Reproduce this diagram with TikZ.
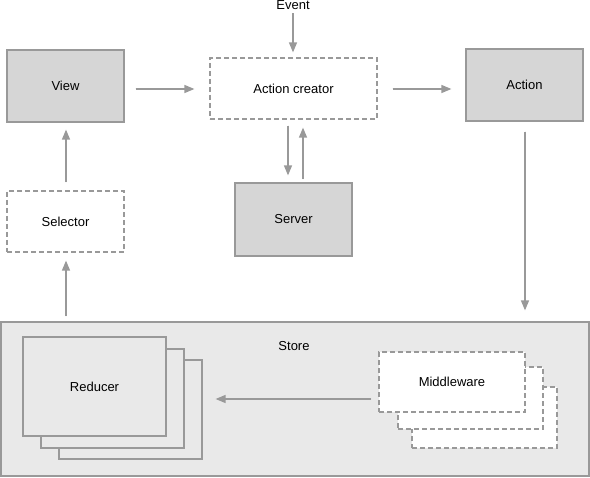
\documentclass[tikz,border=0pt]{standalone}
\usepackage{fontspec}
\setmainfont{Liberation Sans}
\usetikzlibrary{arrows.meta}
\definecolor{edge}{HTML}{999999}
\definecolor{boxfill}{HTML}{D6D6D6}
\definecolor{storefill}{HTML}{E9E9E9}
\tikzset{
  base/.style={rectangle, draw=edge, line width=1.2pt, inner sep=0pt, font=\fontsize{13}{15}\selectfont},
  graybox/.style={base, fill=boxfill},
  dashbox/.style={base, fill=white, dash pattern=on 5pt off 3pt},
  stackbox/.style={base, fill=storefill},
  conn/.style={draw=edge, line width=1.3pt, -{Triangle[length=10pt,width=8pt]}, fill=edge},
  lbl/.style={font=\fontsize{13}{15}\selectfont, inner sep=0pt}
}
\begin{document}
\begin{tikzpicture}[x=1pt,y=-1pt]
\useasboundingbox (0,0) rectangle (590,478);
% store
\node[base, fill=storefill, minimum width=588pt, minimum height=154pt] (store) at (295,399) {};
\node[lbl] (storelbl) at (294,346) {Store};
% reducers
\node[stackbox, minimum width=143pt, minimum height=99pt] (r3) at (130.5,409.5) {};
\node[stackbox, minimum width=143pt, minimum height=99pt] (r2) at (112.5,398.5) {};
\node[stackbox, minimum width=143pt, minimum height=99pt] (r1) at (94.5,386.5) {Reducer};
% middleware
\node[dashbox, minimum width=145pt, minimum height=61pt] (m3) at (484.5,417.5) {};
\node[dashbox, minimum width=145pt, minimum height=62pt] (m2) at (470.5,398) {};
\node[dashbox, minimum width=146pt, minimum height=60pt] (m1) at (452,382) {Middleware};
% top boxes
\node[graybox, minimum width=117pt, minimum height=72pt] (view) at (65.5,86) {View};
\node[dashbox, minimum width=167pt, minimum height=61pt] (ac) at (293.5,88.5) {Action creator};
\node[graybox, minimum width=117pt, minimum height=72pt] (action) at (524.5,85) {Action};
\node[graybox, minimum width=117pt, minimum height=73pt] (server) at (293.5,219.5) {Server};
\node[dashbox, minimum width=117pt, minimum height=61pt] (selector) at (65.5,221.5) {Selector};
\node[lbl, anchor=base] (event) at (293,10) {Event};
% connectors
\draw[conn, shorten <=3pt, shorten >=5pt] (event.south -| 293,0) -- (293,0 |- ac.north);
\draw[conn, shorten <=11pt, shorten >=15pt] (view.east |- 0,89) -- (ac.west |- 0,89);
\draw[conn, shorten <=15pt, shorten >=14pt] (ac.east |- 0,89) -- (action.west |- 0,89);
\draw[conn, shorten <=10pt, shorten >=11pt] (525,0 |- action.south) -- (525,0 |- store.north);
\draw[conn, shorten <=6pt, shorten >=7pt] (288,0 |- ac.south) -- (288,0 |- server.north);
\draw[conn, shorten <=3pt, shorten >=8pt] (303,0 |- server.north) -- (303,0 |- ac.south);
\draw[conn, shorten <=8pt, shorten >=7pt] (66,0 |- selector.north) -- (66,0 |- view.south);
\draw[conn, shorten <=5pt, shorten >=8pt] (66,0 |- store.north) -- (66,0 |- selector.south);
\draw[conn, shorten <=7pt, shorten >=13pt] (m1.west |- 0,399) -- (r3.east |- 0,399);
\end{tikzpicture}
\end{document}
